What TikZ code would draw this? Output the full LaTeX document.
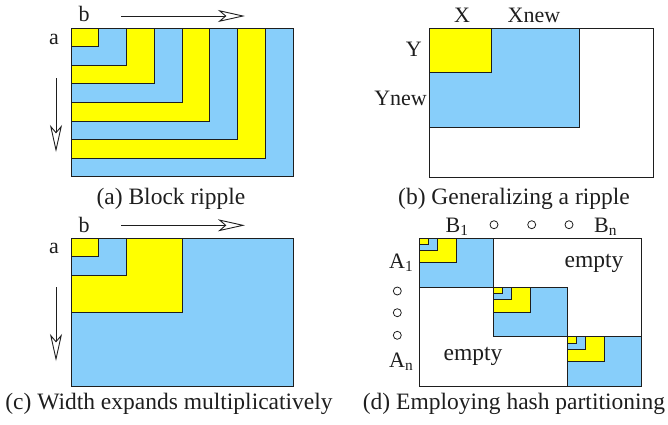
\documentclass[tikz,border=0pt]{standalone}
\usepackage{fontspec}
\setmainfont{Liberation Serif}
\usetikzlibrary{arrows.meta}
\definecolor{ylw}{RGB}{255,255,0}
\definecolor{blu}{RGB}{135,206,250}
\definecolor{ink}{RGB}{30,30,30}
\tikzset{
  cell/.style={draw=ink,line width=1pt},
  lbl/.style={inner sep=0pt,anchor=base,text=ink,font=\fontsize{22}{26}\selectfont},
  captxt/.style={inner sep=0pt,anchor=base,text=ink,font=\fontsize{23.5}{28}\selectfont},
  dirarrow/.style={draw=ink,line width=0.9pt,-{Stealth[open,length=27pt,width=12pt,inset=7pt,line width=0.9pt]}},
  dot/.style={circle,draw=ink,line width=0.8pt,minimum size=8pt,inner sep=0pt}
}
\begin{document}
\begin{tikzpicture}[x=1pt,y=-1pt]
\useasboundingbox (0,0) rectangle (668,424);
% ---------- (a) block ripple
\foreach \k in {8,7,...,1}{
  \pgfmathsetmacro{\c}{mod(\k,2)}
  \ifdim\c pt>0.5pt \def\fc{ylw}\else\def\fc{blu}\fi
  \filldraw[cell,fill=\fc] (71,28) rectangle ({71+\k*27.75},{28+\k*18.6});
}
\node[lbl] (ab) at (84,21.7) {b};
\node[lbl] (aa) at (54,44) {a};
\coordinate (ah1) at (121,16); \coordinate (ah2) at (245,16);
\draw[dirarrow] (ah1) -- (ah2);
\coordinate (av1) at (56,78); \coordinate (av2) at (56,152);
\draw[dirarrow] (av1) -- (av2);
\node[captxt] (capa) at (171,204) {(a) Block ripple};
% ---------- (b) generalizing
\filldraw[cell,fill=white] (429,28) rectangle (653,177);
\filldraw[cell,fill=blu] (429,28) rectangle (579,127);
\filldraw[cell,fill=ylw] (429,28) rectangle (491,72);
\node[lbl] (bx) at (462,22.7) {X};
\node[lbl] (bxn) at (534,22.7) {Xnew};
\node[lbl,anchor=base east] (by) at (422,56.7) {Y};
\node[lbl,anchor=base east] (byn) at (427,105) {Ynew};
\node[captxt] (capb) at (514,204) {(b) Generalizing a ripple};
% ---------- (c) width expands
\filldraw[cell,fill=blu] (71,238) rectangle (293,386);
\filldraw[cell,fill=ylw] (71,238) rectangle (182,312);
\filldraw[cell,fill=blu] (71,238) rectangle (126,275);
\filldraw[cell,fill=ylw] (71,238) rectangle (98.5,256.5);
\node[lbl] (cb) at (84,232) {b};
\node[lbl] (ca) at (54,253.7) {a};
\coordinate (ch1) at (121,225.3); \coordinate (ch2) at (245,225.3);
\draw[dirarrow] (ch1) -- (ch2);
\coordinate (cv1) at (56,287); \coordinate (cv2) at (56,361);
\draw[dirarrow] (cv1) -- (cv2);
\node[captxt] (capc) at (169,409) {(c) Width expands multiplicatively};
% ---------- (d) hash partitioning
\filldraw[cell,fill=white] (419,238) rectangle (641,386);
\foreach \i in {0,1,2}{
  \pgfmathsetmacro{\ox}{419+\i*74}
  \pgfmathsetmacro{\oy}{238+\i*49.33}
  \filldraw[cell,fill=blu] (\ox,\oy) rectangle ({\ox+74},{\oy+49.33});
  \filldraw[cell,fill=ylw] (\ox,\oy) rectangle ({\ox+37},{\oy+24.7});
  \filldraw[cell,fill=blu] (\ox,\oy) rectangle ({\ox+18.5},{\oy+12.4});
  \filldraw[cell,fill=ylw] (\ox,\oy) rectangle ({\ox+9.25},{\oy+6.4});
}
\node[lbl,anchor=base west] (db1) at (445.5,232) {B\textsubscript{1}};
\node[lbl,anchor=base west] (dbn) at (594,232) {B\textsubscript{n}};
\node[lbl,anchor=base west] (da1) at (389,268) {A\textsubscript{1}};
\node[lbl,anchor=base west] (dan) at (389,367) {A\textsubscript{n}};
\node[dot] (h1) at (494,224.7) {};
\node[dot] (h2) at (531.7,224.7) {};
\node[dot] (h3) at (569,224.7) {};
\node[dot] (v1) at (397.3,291) {};
\node[dot] (v2) at (397.3,312.7) {};
\node[dot] (v3) at (397.3,335.3) {};
\node[captxt] (e1) at (594,267) {empty};
\node[captxt] (e2) at (473,360.3) {empty};
\node[captxt] (capd) at (514,409) {(d) Employing hash partitioning};
\end{tikzpicture}
\end{document}
